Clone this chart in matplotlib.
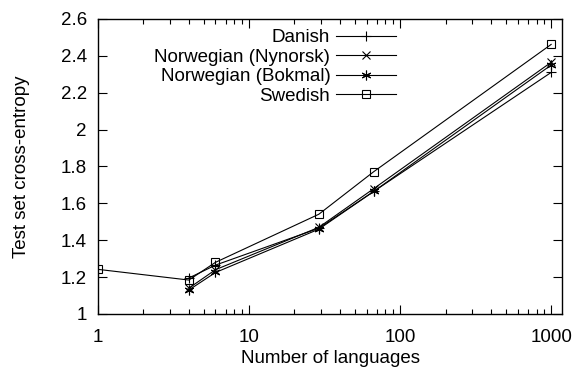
import numpy as np
import matplotlib
matplotlib.use("Agg")
import matplotlib.pyplot as plt
from matplotlib.ticker import LogLocator, NullFormatter

plt.rcParams['font.family'] = ['Liberation Sans', 'DejaVu Sans']

# data
x_main = [4, 6, 29, 67, 1000]
danish = [1.195, 1.265, 1.465, 1.665, 2.31]
nynorsk = [1.14, 1.24, 1.47, 1.68, 2.365]
bokmal = [1.13, 1.225, 1.46, 1.665, 2.35]
x_swedish = [1, 4, 6, 29, 67, 1000]
swedish = [1.242, 1.184, 1.28, 1.541, 1.772, 2.462]

fs = 13.5
fig = plt.figure(figsize=(5.76, 3.72), dpi=100)
ax = fig.add_axes([0.170, 0.156, 0.806, 0.793])

lw = 0.8
ax.plot(x_main, danish, color='black', lw=lw, marker='+', ms=7, mew=0.8, label='Danish')
ax.plot(x_main, nynorsk, color='black', lw=lw, marker='x', ms=6, mew=0.8, label='Norwegian (Nynorsk)')
ax.plot(x_main, bokmal, color='black', lw=lw, marker=(6, 2, 0), ms=7, mew=0.8, label='Norwegian (Bokmal)')
ax.plot(x_swedish, swedish, color='black', lw=lw, marker='s', ms=5.5, mew=0.8,
        mfc='none', label='Swedish')

ax.set_xscale('log')
ax.set_xlim(1, 1183)
ax.set_ylim(1, 2.6)
ax.set_xticks([1, 10, 100, 1000])
ax.set_xticklabels(['1', '10', '100', '1000'])
ax.xaxis.set_minor_locator(LogLocator(base=10, subs=np.arange(2, 10)))
ax.xaxis.set_minor_formatter(NullFormatter())
yt = [1, 1.2, 1.4, 1.6, 1.8, 2, 2.2, 2.4, 2.6]
ax.set_yticks(yt)
ax.set_yticklabels(['1', '1.2', '1.4', '1.6', '1.8', '2', '2.2', '2.4', '2.6'])

ax.tick_params(which='both', direction='in', top=True, right=True, labelsize=fs,
               width=0.8, colors='black')
ax.tick_params(which='major', length=6.5, pad=8)
ax.tick_params(axis='x', which='major', pad=10.5)
ax.tick_params(which='minor', length=3.6)
for s in ax.spines.values():
    s.set_linewidth(1.0)

ax.set_xlabel('Number of languages', fontsize=fs, labelpad=3)
ax.set_ylabel('Test set cross-entropy', fontsize=fs, labelpad=22)

ax.legend(loc='upper right', bbox_to_anchor=(0.642, 0.965), markerfirst=False, frameon=False,
          fontsize=fs, handlelength=3.2, labelspacing=0.12, handletextpad=0.3,
          borderaxespad=0, borderpad=0)

fig.savefig('out.png', dpi=100)
